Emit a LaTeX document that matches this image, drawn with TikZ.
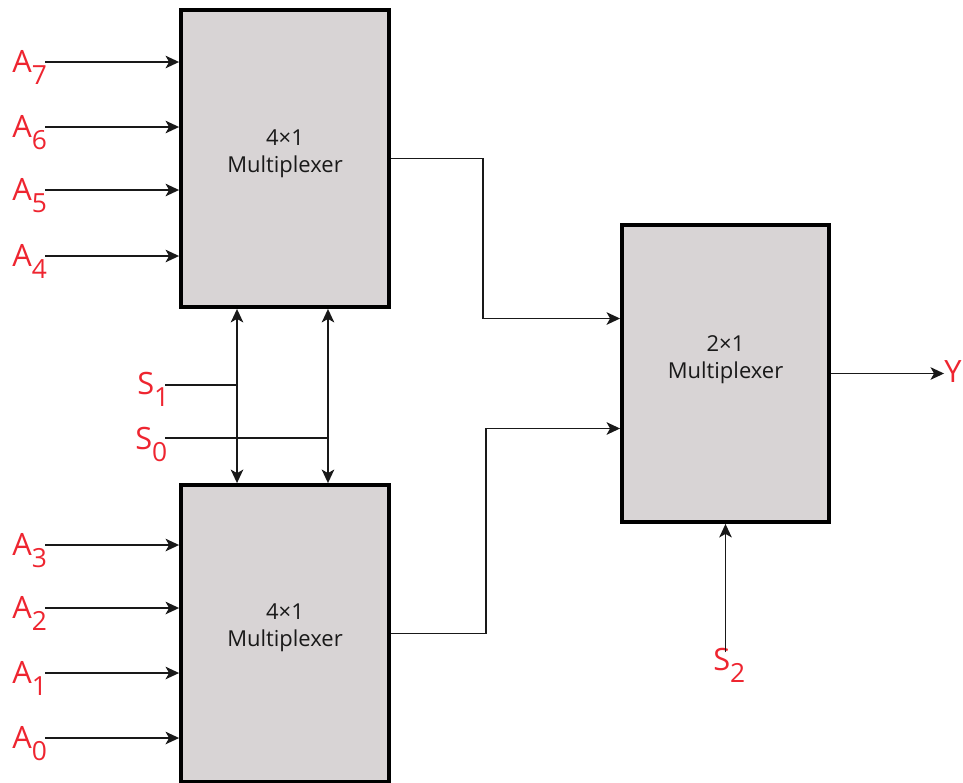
\documentclass[tikz,border=0pt]{standalone}
\usepackage{fontspec}
\setmainfont{Open Sans}
\usetikzlibrary{arrows.meta, positioning, calc}
\definecolor{muxfill}{HTML}{D8D4D5}
\definecolor{sigred}{HTML}{EE2530}
\newcommand{\lsub}[1]{\raisebox{-0.42em}{\fontsize{15}{15}\selectfont #1}}

\begin{document}
\begin{tikzpicture}[
    x=0.02cm, y=-0.02cm,
    >={Stealth[length=0.27cm, width=0.25cm, inset=0.07cm]},
    mux/.style={
      draw, rectangle, line width=2.2pt, fill=muxfill,
      minimum width=4.16cm, minimum height=5.94cm, inner sep=0pt},
    mlabel/.style={
      font=\fontsize{12.5}{15.5}\selectfont, align=center, text=black!90},
    sig/.style={font=\fontsize{17.5}{20}\selectfont, text=sigred, inner sep=0pt},
    wire/.style={line width=1.05pt, color=black!90},
    arr/.style={->, wire},
  ]
  \useasboundingbox (0,0) rectangle (963,782);

  % ── Multiplexer blocks ──
  \node[mux] (m1) at (285,158.5) {};
  \node[mux] (m3) at (285,633.5) {};
  \node[mux, minimum width=4.14cm] (m2) at (725.5,373.5) {};

  \node[mlabel] (m1t) at (285,154) {4×1\\Multiplexer};
  \node[mlabel] (m3t) at (285,628) {4×1\\Multiplexer};
  \node[mlabel] (m2t) at (725.5,360) {2×1\\Multiplexer};

  % ── Data inputs ──
  \foreach \i/\y in {7/62, 6/127, 5/190, 4/256} {
    \node[sig, anchor=base west] (a\i) at (12,\y+10) {A\lsub{\i}};
    \coordinate (in\i) at (45,\y);
    \draw[arr] (in\i) -- (in\i -| m1.west);
  }
  \foreach \i/\y in {3/545, 2/608, 1/673, 0/738} {
    \node[sig, anchor=base west] (a\i) at (12,\y+10) {A\lsub{\i}};
    \coordinate (in\i) at (45,\y);
    \draw[arr] (in\i) -- (in\i -| m3.west);
  }

  % ── Select lines S1, S0 ──
  \coordinate (sel1) at ([xshift=-0.96cm]m1.south);
  \coordinate (sel0) at ([xshift=0.86cm]m1.south);
  \draw[<->, wire] (sel1) -- (sel1 |- m3.north);
  \draw[<->, wire] (sel0) -- (sel0 |- m3.north);

  \node[sig, anchor=base west] (s1) at (137,394) {S\lsub{1}};
  \node[sig, anchor=base west] (s0) at (135,449) {S\lsub{0}};
  \coordinate (s1w) at (165,385);
  \coordinate (s0w) at (165,438);
  \draw[wire] (s1w) -- (s1w -| sel1);
  \draw[wire] (s0w) -- (s0w -| sel0);

  % ── Into the 2x1 block ──
  \draw[arr] (m1.east) -- ++(92,0) |- ([yshift=1.1cm]m2.west);
  \draw[arr] (m3.east) -- ++(95,0) |- ([yshift=-1.1cm]m2.west);

  % ── Output and S2 ──
  \node[sig] (y) at (953,372) {Y};
  \draw[arr] (m2.east) -- (m2.east -| y.west);

  \node[sig, anchor=base west] (s2) at (713,670) {S\lsub{2}};
  \draw[arr] (s2.north -| m2.south) ++(0,5) -- (m2.south);

\end{tikzpicture}
\end{document}
